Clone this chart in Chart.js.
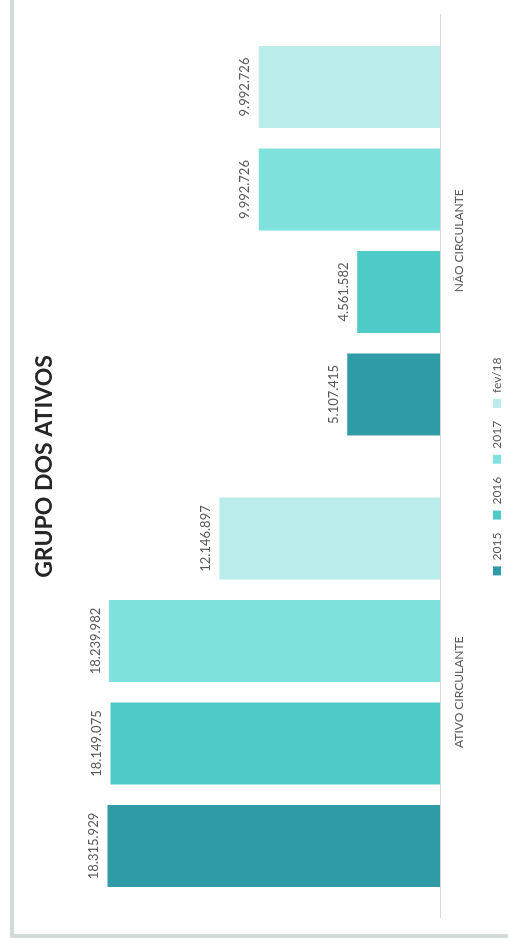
<!DOCTYPE html>
<html lang="pt-BR">
<head>
<meta charset="utf-8">
<title>Grupo dos Ativos</title>
<script src="https://cdn.jsdelivr.net/npm/chart.js@4.4.1/dist/chart.umd.min.js"></script>
<style>
  html, body { margin: 0; padding: 0; background: #fff; }
  body { width: 508px; height: 938px; overflow: hidden; position: relative; }
  /* moldura cinza (esquerda e base) */
  #moldura-esq { position: absolute; left: 10px; top: 0; width: 4px; height: 938px; background: #d3dbd9; }
  #moldura-base { position: absolute; left: 10px; top: 934px; width: 498px; height: 4px; background: #d3dbd9; }
  /* o gráfico é desenhado na horizontal e girado 90° no sentido anti-horário */
  #giro { position: absolute; left: 0; top: 0; width: 938px; height: 530px;
          transform-origin: 0 0; transform: translate(0, 938px) rotate(-90deg); }
</style>
</head>
<body>
<div id="moldura-esq"></div>
<div id="moldura-base"></div>
<div id="giro"><canvas id="grafico" width="938" height="530"></canvas></div>
<script>
const categorias = ['ATIVO CIRCULANTE', 'NÃO CIRCULANTE'];
const periodos = ['2015', '2016', '2017', 'fev/18'];
const valores2015 = [18315929, 5107415];
const valores2016 = [18149075, 4561582];
const valores2017 = [18239982, 9992726];
const valoresFev18 = [12146897, 9992726];
const cores = ['#2f9ba6', '#4ecbc7', '#80e2dd', '#b9ecea'];
const eixoMax = 20000000;

function formatar(v) {
  return String(v).replace(/\B(?=(\d{3})+(?!\d))/g, '.');
}

// escreve o valor acima de cada barra
const rotulosValores = {
  id: 'rotulosValores',
  afterDatasetsDraw(chart) {
    const ctx = chart.ctx;
    ctx.save();
    ctx.font = '13px Lato';
    ctx.fillStyle = '#595959';
    ctx.textAlign = 'center';
    ctx.textBaseline = 'bottom';
    chart.data.datasets.forEach((ds, i) => {
      chart.getDatasetMeta(i).data.forEach((bar, j) => {
        ctx.fillText(formatar(ds.data[j]), bar.x, bar.y - 7);
      });
    });
    ctx.restore();
  }
};

const series = [valores2015, valores2016, valores2017, valoresFev18];

new Chart(document.getElementById('grafico').getContext('2d'), {
  type: 'bar',
  data: {
    labels: categorias,
    datasets: series.map((valores, i) => ({
      label: periodos[i],
      data: valores,
      backgroundColor: cores[i],
      borderWidth: 0,
      categoryPercentage: 0.908,
      barPercentage: 0.8
    }))
  },
  options: {
    responsive: false,
    animation: false,
    layout: {
      padding: { top: 0, left: 20, right: 15, bottom: 17 }
    },
    plugins: {
      title: {
        display: true,
        text: 'GRUPO DOS ATIVOS',
        color: '#262626',
        font: { family: 'Lato', size: 23, weight: 'bold' },
        padding: { top: 31, bottom: 18.4 }
      },
      legend: {
        position: 'bottom',
        labels: {
          boxWidth: 9,
          boxHeight: 8,
          padding: 13,
          color: '#595959',
          font: { family: 'Lato', size: 12 }
        }
      },
      tooltip: { enabled: false }
    },
    scales: {
      x: {
        grid: { display: false, drawTicks: false },
        border: { color: '#d9d9d9', width: 1 },
        ticks: {
          color: '#595959',
          padding: 5,
          font: { family: 'Lato', size: 12, lineHeight: 2.333 }
        }
      },
      y: {
        display: false,
        min: 0,
        max: eixoMax
      }
    }
  },
  plugins: [rotulosValores]
});
</script>
</body>
</html>
